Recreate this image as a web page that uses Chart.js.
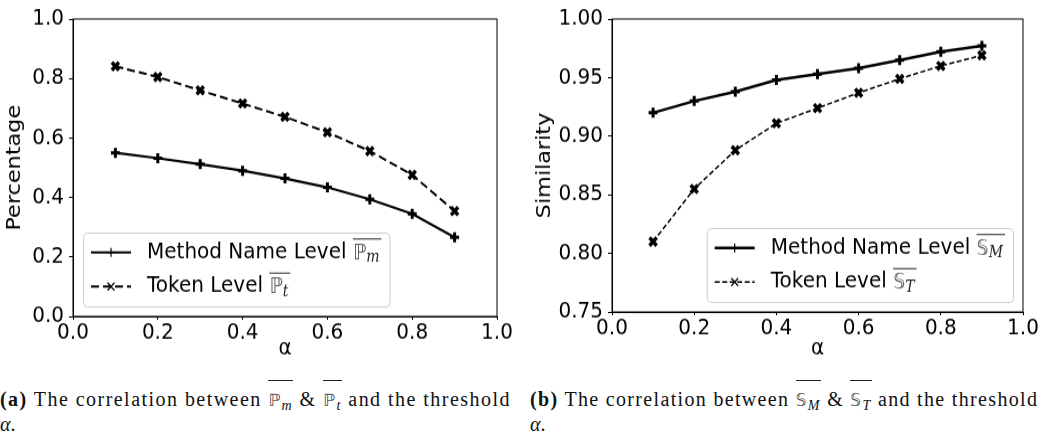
<!DOCTYPE html>
<html>
<head>
<meta charset="utf-8">
<script src="https://cdn.jsdelivr.net/npm/chart.js@4.4.1/dist/chart.umd.min.js"></script>
<style>
  html, body { margin: 0; padding: 0; background: #fff; }
  body { width: 1061px; height: 433px; position: relative; overflow: hidden; }
  /* the original figure is stretched vertically, so the canvases are too */
  canvas { position: absolute; top: 0; transform: scaleY(1.118); transform-origin: 0 0; }
  #pctChart { left: 0; }
  #simChart { left: 530px; }
  .caption {
    position: absolute; top: 388px; width: 531px;
    font-family: "Liberation Serif", serif; font-size: 20px; line-height: 23px;
    color: #111; white-space: nowrap;
  }
  .caption .l1 { display: inline-block; }
  .caption b { font-weight: bold; }
  .ov { position: relative; }
  .ov::before {
    content: ''; position: absolute; left: 0; right: 0; top: -8px;
    border-top: 1px solid #222;
  }
  .ov .bb { color: #555; font-family: "DejaVu Sans", sans-serif; font-size: 17px; }
  .ov i { font-size: 14px; position: relative; top: 4px; }
  .mi { font-style: italic; }
</style>
</head>
<body>
<canvas id="pctChart" width="530" height="322"></canvas>
<canvas id="simChart" width="531" height="322"></canvas>

<div class="caption" style="left:0">
  <span class="l1"><b>(a)</b> The correlation between <span class="ov"><span class="bb">ℙ</span><i>m</i></span> &amp; <span class="ov"><span class="bb">ℙ</span><i>t</i></span> and the threshold</span><br>
  <span class="mi">α</span>.
</div>
<div class="caption" style="left:530px">
  <span class="l1"><b>(b)</b> The correlation between <span class="ov"><span class="bb">𝕊</span><i>M</i></span> &amp; <span class="ov"><span class="bb">𝕊</span><i>T</i></span> and the threshold</span><br>
  <span class="mi">α</span>.
</div>

<script>
// data
const alphas = [0.1, 0.2, 0.3, 0.4, 0.5, 0.6, 0.7, 0.8, 0.9];
const pctMethod = [0.550, 0.532, 0.512, 0.490, 0.464, 0.434, 0.394, 0.345, 0.266];
const pctToken = [0.841, 0.805, 0.760, 0.716, 0.671, 0.619, 0.556, 0.476, 0.354];
const simMethod = [0.920, 0.930, 0.938, 0.948, 0.953, 0.958, 0.965, 0.972, 0.977];
const simToken = [0.810, 0.855, 0.888, 0.911, 0.924, 0.937, 0.949, 0.960, 0.969];

const xTicks = [0.0, 0.2, 0.4, 0.6, 0.8, 1.0];
const pctTicks = [0.0, 0.2, 0.4, 0.6, 0.8, 1.0];
const simTicks = [0.75, 0.80, 0.85, 0.90, 0.95, 1.00];

const pctLegend = [
  { label: 'Method Name Level', sym: 'ℙ', sub: 'm' },
  { label: 'Token Level', sym: 'ℙ', sub: 't' }
];
const simLegend = [
  { label: 'Method Name Level', sym: '𝕊', sub: 'M' },
  { label: 'Token Level', sym: '𝕊', sub: 'T' }
];

Chart.defaults.font.family = '"DejaVu Sans", sans-serif';
Chart.defaults.font.size = 20;
Chart.defaults.color = '#000';

const toPoints = (ys) => alphas.map((a, i) => ({ x: a, y: ys[i] }));

// top and right spines
const framePlugin = {
  id: 'frame',
  afterDraw(chart) {
    const { ctx, chartArea: a } = chart;
    ctx.save();
    ctx.strokeStyle = '#000';
    ctx.lineWidth = 1;
    ctx.strokeRect(a.left, a.top, a.right - a.left, a.bottom - a.top);
    ctx.restore();
  }
};

function drawMarker(ctx, style, x, y, r, lw) {
  ctx.save();
  ctx.setLineDash([]);
  ctx.lineWidth = lw;
  ctx.beginPath();
  if (style === 'cross') {
    ctx.moveTo(x - r, y); ctx.lineTo(x + r, y);
    ctx.moveTo(x, y - r); ctx.lineTo(x, y + r);
  } else {
    ctx.moveTo(x - r, y - r); ctx.lineTo(x + r, y + r);
    ctx.moveTo(x - r, y + r); ctx.lineTo(x + r, y - r);
  }
  ctx.stroke();
  ctx.restore();
}

// matplotlib-like legend box, lower corner of the axes
const legendPlugin = {
  id: 'mplLegend',
  afterDraw(chart, args, opts) {
    const { ctx, chartArea: a } = chart;
    const items = opts.items;
    const padX = 8, padY = 7, hl = 40, tp = 16, rowH = 21.5, gap = 9, axPadX = 10, axPadY = 9;
    const txtFont = '20px "DejaVu Sans"';
    const symFont = '19px "DejaVu Sans"';
    const subFont = 'italic 14px "DejaVu Serif"';
    ctx.save();
    const widths = items.map(it => {
      ctx.font = txtFont;
      let w = ctx.measureText(it.label + ' ').width;
      ctx.font = symFont;
      w += ctx.measureText(it.sym).width;
      ctx.font = subFont;
      w += ctx.measureText(it.sub).width + 2;
      return w;
    });
    const w = padX * 2 + hl + tp + Math.max(...widths);
    const h = padY * 2 + rowH * items.length + gap * (items.length - 1);
    const x0 = opts.corner === 'right' ? a.right - axPadX - w : a.left + axPadX;
    const y0 = a.bottom - axPadY - h;

    ctx.beginPath();
    ctx.roundRect(x0 + 0.5, y0 + 0.5, w, h, 4);
    ctx.fillStyle = 'rgba(255,255,255,0.8)';
    ctx.fill();
    ctx.strokeStyle = '#cccccc';
    ctx.lineWidth = 1;
    ctx.stroke();

    items.forEach((it, i) => {
      const ds = chart.data.datasets[i];
      const cy = y0 + padY + rowH / 2 + i * (rowH + gap);
      const hx = x0 + padX;
      ctx.strokeStyle = '#000';
      ctx.lineWidth = ds.borderWidth;
      ctx.setLineDash(ds.borderDash || []);
      ctx.beginPath();
      ctx.moveTo(hx, cy);
      ctx.lineTo(hx + hl, cy);
      ctx.stroke();
      drawMarker(ctx, ds.pointStyle, hx + hl / 2, cy, ds.pointStyle === 'cross' ? 4 : 3.5, 1.2);

      let tx = hx + hl + tp;
      ctx.fillStyle = '#000';
      ctx.textBaseline = 'middle';
      ctx.font = txtFont;
      ctx.fillText(it.label + ' ', tx, cy);
      tx += ctx.measureText(it.label + ' ').width;
      const mx = tx;
      ctx.font = symFont;
      ctx.fillStyle = '#555';
      ctx.fillText(it.sym, tx, cy + 1);
      tx += ctx.measureText(it.sym).width;
      ctx.font = subFont;
      ctx.fillStyle = '#222';
      ctx.fillText(it.sub, tx, cy + 5);
      tx += ctx.measureText(it.sub).width + 2;
      ctx.strokeStyle = '#222';
      ctx.lineWidth = 1;
      ctx.setLineDash([]);
      ctx.beginPath();
      ctx.moveTo(mx, cy - 12);
      ctx.lineTo(tx, cy - 12);
      ctx.stroke();
    });
    ctx.restore();
  }
};

function axisOpts(min, max, ticks, digits, title, fixedSize, horizontal) {
  return {
    type: 'linear',
    min, max,
    afterBuildTicks: (s) => { s.ticks = ticks.map(v => ({ value: v })); },
    afterFit: (s) => { if (horizontal) s.height = fixedSize; else s.width = fixedSize; },
    ticks: {
      callback: (v) => Number(v).toFixed(digits),
      padding: horizontal ? 0 : 5,
      maxRotation: 0,
      autoSkip: false,
      color: '#000'
    },
    grid: { display: true, drawOnChartArea: false, drawTicks: true, tickLength: horizontal ? 3 : 4, color: '#000', lineWidth: 1 },
    border: { display: true, color: '#000', width: 1 },
    title: {
      display: true, text: title, color: '#000',
      font: { size: 20, lineHeight: horizontal ? 1.0 : 1.2 },
      padding: horizontal ? 0 : { top: 3, bottom: 0 }
    }
  };
}

function makeChart(id, series, cfg) {
  return new Chart(document.getElementById(id), {
    type: 'line',
    data: {
      datasets: [
        {
          label: cfg.legend[0].label,
          data: toPoints(series[0]),
          borderColor: '#000', backgroundColor: '#000',
          borderWidth: cfg.lw[0],
          pointStyle: 'cross', pointRadius: 4.5, pointBorderWidth: 3,
          tension: 0
        },
        {
          label: cfg.legend[1].label,
          data: toPoints(series[1]),
          borderColor: '#000', backgroundColor: '#000',
          borderWidth: cfg.lw[1], borderDash: cfg.dash,
          pointStyle: 'crossRot', pointRadius: 5, pointBorderWidth: 3.5,
          tension: 0
        }
      ]
    },
    options: {
      responsive: false,
      animation: false,
      devicePixelRatio: 1,
      layout: { padding: cfg.padding },
      plugins: {
        legend: { display: false },
        tooltip: { enabled: false },
        mplLegend: { items: cfg.legend, corner: cfg.corner }
      },
      scales: {
        x: axisOpts(0, 1, xTicks, 1, 'α', cfg.xh, true),
        y: axisOpts(cfg.ymin, cfg.ymax, cfg.yticks, cfg.digits, cfg.ytitle, cfg.yw, false)
      }
    },
    plugins: [framePlugin, legendPlugin]
  });
}

makeChart('pctChart', [pctMethod, pctToken], {
  legend: pctLegend, corner: 'left', lw: [2.2, 2], dash: [8, 4],
  padding: { top: 10, right: 33, left: 0, bottom: 0 },
  xh: 39, yw: 73, ymin: 0, ymax: 1, yticks: pctTicks, digits: 1, ytitle: 'Percentage'
});

makeChart('simChart', [simMethod, simToken], {
  legend: simLegend, corner: 'right', lw: [2.5, 1.5], dash: [5, 2.5],
  padding: { top: 13, right: 38, left: 0, bottom: 0 },
  xh: 43, yw: 82, ymin: 0.75, ymax: 1, yticks: simTicks, digits: 2, ytitle: 'Similarity'
});

// stretch caption first lines to the width of the original layout
document.querySelectorAll('.caption .l1').forEach(el => {
  const target = 511;
  const n = el.textContent.replace(/\s+/g, ' ').trim().length;
  const w = el.getBoundingClientRect().width;
  el.style.letterSpacing = ((target - w) / n).toFixed(2) + 'px';
});
</script>
</body>
</html>
